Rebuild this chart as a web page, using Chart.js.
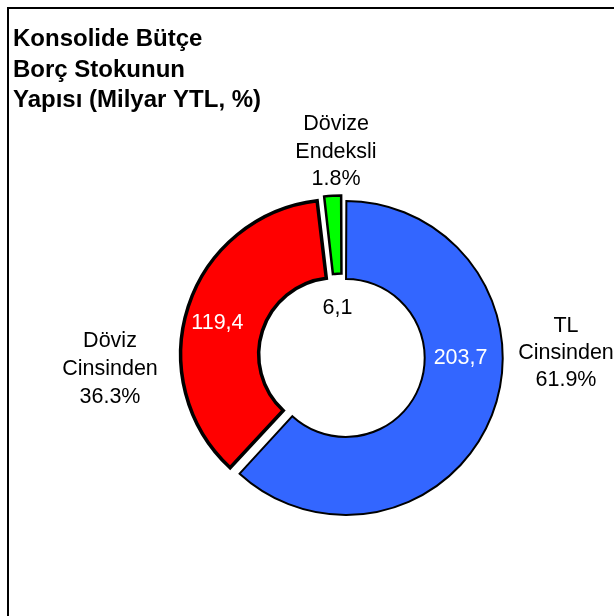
<!DOCTYPE html>
<html>
<head>
<meta charset="utf-8">
<script src="https://cdn.jsdelivr.net/npm/chart.js@4"></script>
<style>
  body { margin: 0; background: #fff; }
  canvas { display: block; }
</style>
</head>
<body>
<canvas id="debt-chart" width="614" height="616"></canvas>
<script>
// data
const categories = ["TL Cinsinden", "Döviz Cinsinden", "Dövize Endeksli"];
const labelLines = [["TL", "Cinsinden"], ["Döviz", "Cinsinden"], ["Dövize", "Endeksli"]];
const values = [203.7, 119.4, 6.1];
const shares = ["61.9%", "36.3%", "1.8%"];
const titleLines = ["Konsolide Bütçe", "Borç Stokunun", "Yapısı (Milyar YTL, %)"];

const colors = ["#3366FF", "#FF0000", "#00FF00"];
const FONT = "'Liberation Sans', Arial, sans-serif";

// where the text goes (style, not data)
const outsideLabels = [
    { x: 566, y: 332, step: 27 },
    { x: 110, y: 347, step: 28 },
    { x: 336, y: 130, step: 27.5 }
];
// value labels: angle clockwise from top (deg), radius as share of outer radius
const valueSpots = [
    { angle: 90.7, r: 0.775, color: "#fff" },
    { angle: 285, r: 0.843, color: "#fff" },
    { angle: 354.7, r: 0.318, color: "#000" }
];

const textPlugin = {
    id: "texts",
    afterDraw(chart) {
        const ctx = chart.ctx;
        ctx.save();

        // frame
        ctx.strokeStyle = "#000";
        ctx.lineWidth = 2;
        ctx.strokeRect(8, 8, 700, 700);

        // title
        ctx.fillStyle = "#000";
        ctx.textAlign = "left";
        ctx.textBaseline = "alphabetic";
        ctx.font = "bold 24px " + FONT;
        titleLines.forEach((t, i) => ctx.fillText(t, 13, 46 + i * 30.5));

        // category labels
        ctx.font = "21.5px " + FONT;
        ctx.textAlign = "center";
        outsideLabels.forEach((p, i) => {
            const lines = labelLines[i].concat([shares[i]]);
            lines.forEach((t, j) => ctx.fillText(t, p.x, p.y + j * p.step));
        });

        // value labels inside the ring
        const meta = chart.getDatasetMeta(0);
        ctx.textBaseline = "middle";
        meta.data.forEach((arc, i) => {
            const s = valueSpots[i];
            const a = s.angle * Math.PI / 180;
            const r = arc.outerRadius * s.r;
            ctx.fillStyle = s.color;
            ctx.fillText(values[i].toFixed(1).replace(".", ","),
                arc.x + Math.sin(a) * r, arc.y - Math.cos(a) * r);
        });

        ctx.restore();
    }
};

document.addEventListener("DOMContentLoaded", () => {
    new Chart(document.getElementById("debt-chart"), {
        type: "doughnut",
        data: {
            labels: categories,
            datasets: [{
                data: values,
                backgroundColor: colors,
                borderColor: "#000",
                borderWidth: [2, 3.5, 2.5],
                borderJoinStyle: "miter",
                offset: [16, 28, 17]
            }]
        },
        options: {
            responsive: false,
            animation: false,
            radius: 153,
            cutout: "49%",
            layout: { padding: { left: 70, top: 97, right: 0, bottom: 0 } },
            plugins: {
                legend: { display: false },
                tooltip: { enabled: false },
                title: { display: false }
            }
        },
        plugins: [textPlugin]
    });
});
</script>
</body>
</html>
